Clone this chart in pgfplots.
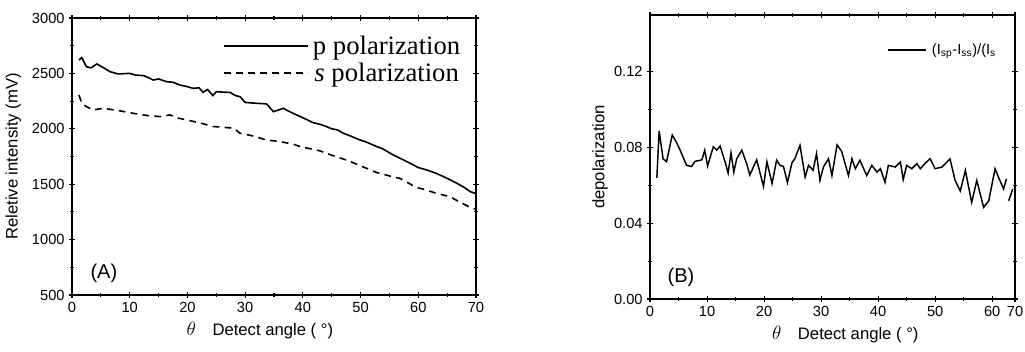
\documentclass[border=0pt]{standalone}
\usepackage{pgfplots}
\pgfplotsset{compat=1.18}
\usepackage{fontspec}
\setmainfont{Liberation Sans}
\newfontfamily\timesfont{Liberation Serif}

\pgfplotstableread{
t v
1.2 2621
1.7 2642
2.5 2560
3.3 2550
4.3 2585
5.5 2550
6.6 2515
8.0 2495
10.0 2500
11.0 2485
12.4 2480
13.3 2460
14.1 2440
15.0 2450
16.4 2425
17.5 2420
18.7 2395
20.0 2380
21.0 2365
22.0 2370
22.7 2330
23.5 2355
24.4 2300
25.0 2335
26.5 2330
27.4 2328
28.3 2300
29.1 2290
30.0 2238
32.0 2230
33.7 2225
34.9 2155
35.8 2170
36.6 2185
37.5 2160
38.9 2125
40.0 2100
41.8 2055
43.0 2040
44.1 2020
45.0 2000
46.0 1990
47.0 1960
48.0 1940
49.9 1899
51.0 1880
52.8 1840
53.8 1820
55.7 1763
57.0 1730
58.6 1689
60.0 1650
61.5 1628
63.0 1600
64.4 1568
65.5 1540
66.7 1508
68.0 1470
69.0 1433
70.0 1415
}\ptable

\pgfplotstableread{
t v
1.2 2305
1.7 2230
2.5 2200
3.7 2170
5.4 2185
8.0 2165
10.6 2140
13.0 2120
15.2 2110
17.0 2125
18.5 2095
19.9 2080
22.0 2055
24.5 2020
26.0 2015
28.0 2005
29.1 1960
31.0 1940
33.7 1899
36.0 1885
38.4 1860
39.5 1840
43.0 1800
45.9 1745
47.6 1718
50.5 1655
52.8 1605
55.7 1565
56.8 1553
59.7 1470
60.9 1455
63.0 1420
65.5 1387
67.5 1330
69.3 1283
70.0 1275
}\stable

\pgfplotstableread{
t v
1.2 0.0640
1.6 0.0887
2.3 0.0740
2.9 0.0725
3.9 0.0866
4.6 0.0830
5.3 0.0785
6.4 0.0706
7.3 0.0700
7.9 0.0727
9.1 0.0735
9.6 0.0786
10.1 0.0702
11.1 0.0804
11.7 0.0786
12.3 0.0808
13.2 0.0720
13.7 0.0665
14.2 0.0772
14.7 0.0670
15.2 0.0741
16.1 0.0786
17.0 0.0710
17.5 0.0655
18.7 0.0735
19.9 0.0595
20.5 0.0724
21.4 0.0610
22.2 0.0733
22.8 0.0706
23.4 0.0700
24.1 0.0615
24.9 0.0720
25.4 0.0741
26.3 0.0812
27.2 0.0644
27.8 0.0706
28.6 0.0680
29.2 0.0768
29.8 0.0626
30.4 0.0697
31.3 0.0741
31.9 0.0652
32.8 0.0814
33.6 0.0780
34.8 0.0652
35.4 0.0741
36.0 0.0688
36.8 0.0733
38.0 0.0652
38.9 0.0706
39.8 0.0670
40.4 0.0688
41.2 0.0617
41.8 0.0706
43.0 0.0697
43.9 0.0724
44.4 0.0630
45.0 0.0706
45.9 0.0688
46.8 0.0715
47.4 0.0688
48.2 0.0715
49.1 0.0741
50.0 0.0688
51.2 0.0697
52.6 0.0740
53.5 0.0626
54.4 0.0570
55.3 0.0679
56.4 0.0510
57.3 0.0626
58.5 0.0484
59.4 0.0519
60.5 0.0688
61.1 0.0644
62.0 0.0581
62.5 0.0635
}\btable

\pgfplotstableread{
t v
62.9 0.0519
63.6 0.0581
}\btableb

\begin{document}
\begin{tikzpicture}
\path[use as bounding box] (0pt,0pt) rectangle (768.75pt,264pt);
\pgfplotsset{
  common/.style={
    scale only axis,
    tick align=center,
    major tick length=4pt,
    minor tick length=2.5pt,
    axis line style={line width=1.1pt},
    every tick/.style={black, line width=0.8pt},
    tick label style={font=\fontsize{11}{13}\selectfont},
    label style={font=\fontsize{12.5}{14}\selectfont},
    /pgf/number format/assume math mode=true,
    /pgf/number format/1000 sep={},
    minor x tick num=1,
    minor y tick num=1,
  }
}
\begin{axis}[common,
  at={(54pt,42.75pt)}, anchor=south west,
  width=303pt, height=207.75pt,
  xmin=0, xmax=70, ymin=500, ymax=3000,
  xtick={0,10,...,70}, ytick={500,1000,...,3000},
  xlabel={{\Large$\theta$}\quad Detect angle ( °)},
  xlabel style={at={(rel axis cs:0.465,0)}, anchor=center, yshift=-27pt},
  ylabel={Reletive intensity (mV)},
  ylabel style={at={(rel axis cs:-0.145,0.5)}, anchor=center},
  legend style={at={(rel axis cs:0.374,0.945)}, anchor=north west, draw=none, fill=none,
    inner sep=0pt, column sep=3pt, row sep=1.75pt,
    font=\timesfont\fontsize{20}{20}\selectfont,
    nodes={inner sep=0pt, text height=16pt, text depth=2.5pt}},
  legend image code/.code={\draw[#1] (0pt,0pt) -- (63pt,0pt);},
]
\addplot[black, line width=1.2pt] table[x=t,y=v] {\ptable};
\addlegendentry{p polarization}
\addplot[black, line width=1.2pt, dash pattern=on 5pt off 4pt] table[x=t,y=v] {\stable};
\addlegendentry{\textit{s} polarization}
\node[font=\fontsize{15}{15}\selectfont] at (rel axis cs:0.079,0.079) {(A)};
\end{axis}

\begin{axis}[common,
  at={(487.5pt,39.75pt)}, anchor=south west,
  width=273.75pt, height=213pt,
  xmin=0, xmax=64, ymin=0, ymax=0.15,
  xtick={0,10,...,60}, extra x ticks={64}, extra x tick labels={70},
  ytick={0,0.04,0.08,0.12},
  scaled y ticks=false,
  y tick label style={/pgf/number format/.cd, fixed, fixed zerofill, precision=2},
  xlabel={{\Large$\theta$}\quad Detect angle ( °)},
  xlabel style={at={(rel axis cs:0.535,0)}, anchor=center, yshift=-27pt},
  ylabel={depolarization},
  ylabel style={at={(rel axis cs:-0.137,0.5)}, anchor=center},
  legend style={at={(rel axis cs:0.649,0.877)}, anchor=west, draw=none, fill=none,
    inner sep=0pt, column sep=2pt,
    font=\fontsize{11}{12}\selectfont},
  legend image code/.code={\draw[#1] (0pt,0pt) -- (28.5pt,0pt);},
]
\addplot[black, line width=1.1pt] table[x=t,y=v] {\btable};
\addlegendentry{(I\textsubscript{sp}-I\textsubscript{ss})/(I\textsubscript{s}}
\addplot[black, line width=1.1pt, forget plot] table[x=t,y=v] {\btableb};
\node[font=\fontsize{15}{15}\selectfont] at (rel axis cs:0.085,0.077) {(B)};
\end{axis}
\end{tikzpicture}
\end{document}
